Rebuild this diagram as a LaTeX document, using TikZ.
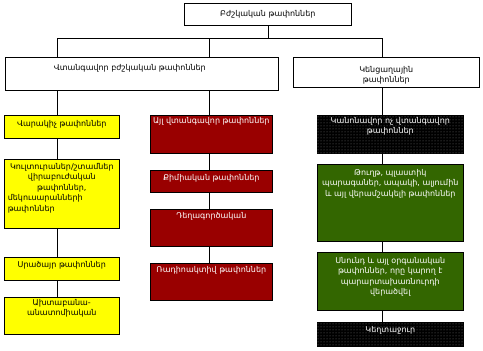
\documentclass[tikz,border=0pt]{standalone}
\usepackage{fontspec}
\newfontfamily\armfont{DejaVu Sans}
\usetikzlibrary{positioning,patterns}
\definecolor{wasteyellow}{RGB}{255,255,0}
\definecolor{wastered}{RGB}{153,0,0}
\definecolor{wastegreen}{RGB}{51,102,0}

\begin{document}
\begin{tikzpicture}[x=1pt,y=-1pt,
  box/.style={draw=black, line width=0.6pt, anchor=north west, inner sep=0pt},
  yellowbox/.style={box, fill=wasteyellow},
  redbox/.style={box, fill=wastered},
  greenbox/.style={box, fill=wastegreen},
  blackbox/.style={box, fill=black, postaction={pattern=dots, pattern color=black!55}},
  lbl/.style={font=\armfont\fontsize{8}{10.5}\selectfont, align=center, inner sep=0pt},
  wlbl/.style={lbl, text=white}]
  \useasboundingbox (0,0) rectangle (483,351);

  % boxes
  \node[box, fill=white, minimum width=167pt, minimum height=22pt] (top) at (184,3) {};
  \node[box, fill=white, minimum width=273pt, minimum height=33pt] (L) at (5,57) {};
  \node[box, fill=white, minimum width=186pt, minimum height=30pt] (R) at (293,57) {};

  \node[yellowbox, minimum width=115pt, minimum height=23pt] (Y1) at (4,115) {};
  \node[yellowbox, minimum width=115pt, minimum height=69pt] (Y2) at (4,159) {};
  \node[yellowbox, minimum width=115pt, minimum height=23pt] (Y3) at (4,257) {};
  \node[yellowbox, minimum width=115pt, minimum height=37pt] (Y4) at (4,297) {};

  \node[redbox, minimum width=122pt, minimum height=38pt] (R1) at (150,115) {};
  \node[redbox, minimum width=122pt, minimum height=22pt] (R2) at (150,170) {};
  \node[redbox, minimum width=122pt, minimum height=37pt] (R3) at (150,209) {};
  \node[redbox, minimum width=122pt, minimum height=37pt] (R4) at (150,263) {};

  \node[blackbox, minimum width=146pt, minimum height=38pt] (B1) at (317,115) {};
  \node[greenbox, minimum width=146pt, minimum height=77pt] (G1) at (317,164) {};
  \node[greenbox, minimum width=146pt, minimum height=58pt] (G2) at (317,252) {};
  \node[blackbox, minimum width=146pt, minimum height=24pt] (B2) at (317,322) {};

  % texts
  \node[lbl] (topt) at (top.center) {Բժշկական թափոններ};
  \node[lbl, below=7pt of L.north, xshift=-12pt] (Lt) {Վտանգավոր բժշկական թափոններ};
  \node[lbl, below=9pt of R.north] (Rt) {Կենցաղային\\թափոններ};

  \node[lbl, below=5pt of Y1.north] (Y1t) {Վարակիչ թափոններ};
  \node[lbl, below=4pt of Y2.north, text width=108pt] (Y2t) {Կուլտուրաներ/շտամներ\\վիրաբուժական\\թափոններ,\\\makebox[108pt][l]{մեկուսարանների}\\\makebox[108pt][l]{թափոններ}};
  \node[lbl, below=4pt of Y3.north] (Y3t) {Սրածայր թափոններ};
  \node[lbl, below=2pt of Y4.north] (Y4t) {Ախտաբանա-\\անատոմիական};

  \node[wlbl, below=2pt of R1.north] (R1t) {Այլ վտանգավոր թափոններ};
  \node[wlbl, below=4pt of R2.north] (R2t) {Քիմիական թափոններ};
  \node[wlbl, below=3pt of R3.north] (R3t) {Դեղագործական};
  \node[wlbl, below=3pt of R4.north] (R4t) {Ռադիոակտիվ թափոններ};

  \node[wlbl, below=2pt of B1.north] (B1t) {Կանոնավոր ոչ վտանգավոր\\թափոններ};
  \node[wlbl, below=5pt of G1.north] (G1t) {Թուղթ, պլաստիկ\\պարագաներ, ապակի, ալյումին\\և այլ վերամշակելի թափոններ};
  \node[wlbl, below=5pt of G2.north] (G2t) {Սնունդ և այլ օրգանական\\թափոններ, որը կարող է\\պարարտախառնուրդի\\վերածվել};
  \node[wlbl, below=4pt of B2.north] (B2t) {Կեղտաջուր};

  % connectors
  \coordinate (busL) at (57,38);
  \coordinate (busM) at (209,38);
  \coordinate (busR) at (382,38);
  \draw (top.south) -- (top.south |- busL);
  \draw (busL) -- (busR);
  \draw (busL) -- (busL |- L.north);
  \draw (busM) -- (busM |- L.north);
  \draw (busR) -- (busR |- R.north);
  \foreach \a/\b in {L/Y1, Y1/Y2, Y2/Y3, Y3/Y4}
    \draw (busL |- \a.south) -- (busL |- \b.north);
  \foreach \a/\b in {L/R1, R1/R2, R2/R3, R3/R4}
    \draw (busM |- \a.south) -- (busM |- \b.north);
  \foreach \a/\b in {R/B1, B1/G1, G1/G2, G2/B2}
    \draw (busR |- \a.south) -- (busR |- \b.north);
\end{tikzpicture}
\end{document}
